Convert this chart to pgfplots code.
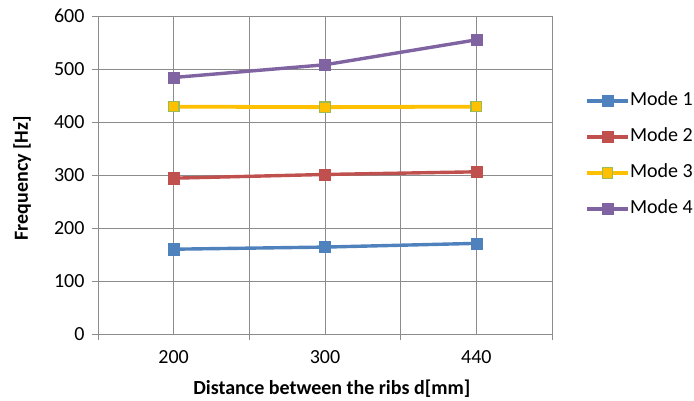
\documentclass[border=0pt]{standalone}
\usepackage{pgfplots}
\pgfplotsset{compat=1.18}
\usepackage{fontspec}
\setmainfont{Carlito}
\definecolor{mblue}{HTML}{4F81BD}
\definecolor{mred}{HTML}{C0504D}
\definecolor{myellow}{HTML}{FFC000}
\definecolor{mgreen}{HTML}{9BBB59}
\definecolor{mpurple}{HTML}{8064A2}
\definecolor{gridgray}{HTML}{8C8C8C}
\newcommand\cf{\fontsize{20pt}{23pt}\selectfont}
\begin{document}
\begin{tikzpicture}
\path[use as bounding box] (0,0) rectangle (694pt,400pt);
\begin{axis}[
    at={(98pt,66pt)}, anchor=south west,
    scale only axis,
    width=454pt, height=318pt,
    xmin=-0.5, xmax=2.5,
    ymin=0, ymax=600,
    xtick={0,1,2},
    xticklabels={200,300,440},
    minor xtick={-0.5,0.5,1.5,2.5},
    ytick={0,100,...,600},
    xtick pos=bottom, ytick pos=left,
    tick align=outside,
    major tick length=6pt, minor tick length=6pt,
    every major x tick/.append style={draw=none},
    every tick/.append style={gridgray, line width=0.8pt},
    grid=both,
    major grid style={gridgray, line width=0.8pt},
    minor grid style={gridgray, line width=0.8pt},
    axis line style={gridgray, line width=0.8pt},
    /pgf/number format/assume math mode=true,
    ticklabel style={font=\cf, text=black},
    xticklabel style={yshift=-7pt},
    yticklabel style={xshift=-4pt},
    xlabel={\bfseries Distance between the ribs d[mm]},
    ylabel={\bfseries Frequency [Hz]},
    label style={font=\cf},
    xlabel style={at={(rel axis cs:0.515,-0.173)}, anchor=center},
    ylabel style={at={(rel axis cs:-0.167,0.49)}, anchor=center},
    legend style={at={(rel axis cs:1.0727,0.563)}, anchor=west,
        draw=none, fill=none, inner sep=0pt, font=\cf,
        row sep=17pt,
        nodes={inner sep=0pt, text height=14pt, text depth=5pt},
        /tikz/every even column/.append style={column sep=4pt}},
    legend cell align=left,
    legend image code/.code={
        \draw[mark repeat=2, mark phase=2]
        plot coordinates {(0pt,0pt) (20.5pt,0pt) (41pt,0pt)};},
    every axis plot/.append style={line width=3.4pt, mark=square*, mark size=5.6pt},
]
\addplot[mblue, mark options={fill=mblue, line width=0.4pt}] coordinates {(0,160) (1,164) (2,171)};
\addlegendentry{Mode 1}
\addplot[mred, mark options={fill=mred, line width=0.4pt}] coordinates {(0,294) (1,301) (2,306)};
\addlegendentry{Mode 2}
\addplot[myellow, line width=3.8pt, mark options={fill=myellow, draw=mgreen, line width=1.3pt}, mark size=5.2pt] coordinates {(0,429) (1,428) (2,429)};
\addlegendentry{Mode 3}
\addplot[mpurple, mark options={fill=mpurple, line width=0.4pt}] coordinates {(0,484) (1,508) (2,555)};
\addlegendentry{Mode 4}
\end{axis}
\end{tikzpicture}
\end{document}
